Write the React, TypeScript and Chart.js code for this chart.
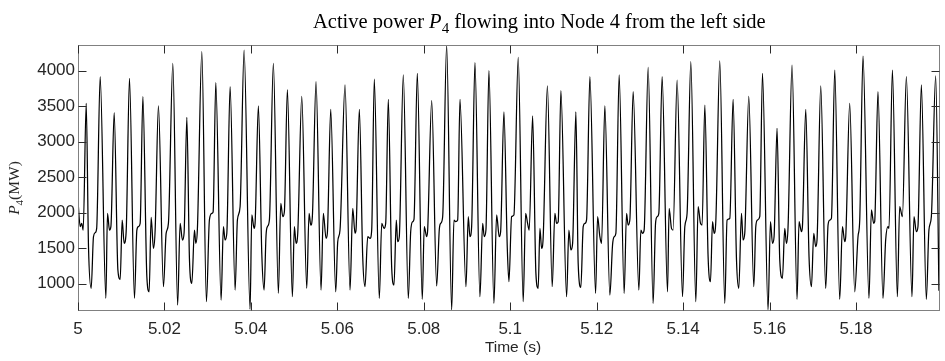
import React, { useEffect, useRef } from "react";
import { Chart, registerables } from "chart.js";

Chart.register(...registerables);

// ---- data ----
const timeS: number[] = [
  5.0, 5.00051, 5.00086, 5.0012, 5.0019, 5.00243, 5.00305, 5.00358, 5.00398, 5.00432,
  5.00513, 5.00645, 5.00682, 5.00728, 5.00761, 5.00837, 5.00923, 5.00976, 5.01022, 5.01068,
  5.01114, 5.01191, 5.01306, 5.01362, 5.01399, 5.01438, 5.01501, 5.01593, 5.01646, 5.01692,
  5.01746, 5.01785, 5.01861, 5.01977, 5.02039, 5.02092, 5.02194, 5.02305, 5.02363, 5.02416,
  5.02455, 5.02518, 5.02578, 5.02634, 5.02694, 5.02726, 5.02763, 5.02865, 5.02971, 5.0304,
  5.03096, 5.03126, 5.03188, 5.03311, 5.03364, 5.03403, 5.03443, 5.03519, 5.03635, 5.03688,
  5.0375, 5.03843, 5.03981, 5.04021, 5.04074, 5.04097, 5.04173, 5.04252, 5.04305, 5.04351,
  5.04381, 5.04428, 5.0452, 5.04636, 5.04691, 5.04738, 5.04775, 5.04844, 5.0496, 5.05006,
  5.05045, 5.05084, 5.05177, 5.05292, 5.05346, 5.05385, 5.05422, 5.05507, 5.05623, 5.05676,
  5.05739, 5.05769, 5.05847, 5.05963, 5.06009, 5.06062, 5.06178, 5.06294, 5.06356, 5.06409,
  5.06432, 5.06509, 5.06587, 5.0664, 5.06703, 5.06756, 5.06795, 5.06855, 5.06971, 5.07027,
  5.0708, 5.07119, 5.07179, 5.07258, 5.07311, 5.07364, 5.07396, 5.07433, 5.07526, 5.07642,
  5.07697, 5.07743, 5.07773, 5.0785, 5.07965, 5.08011, 5.08067, 5.0809, 5.08183, 5.08298,
  5.08358, 5.08391, 5.08437, 5.08529, 5.08645, 5.08698, 5.08737, 5.08784, 5.08837, 5.08976,
  5.09029, 5.09068, 5.09107, 5.09184, 5.09299, 5.09362, 5.09399, 5.09438, 5.09507, 5.09623,
  5.09685, 5.09746, 5.09778, 5.09854, 5.09931, 5.0997, 5.10032, 5.10085, 5.10185, 5.103,
  5.10356, 5.10402, 5.10439, 5.10518, 5.10594, 5.10647, 5.10687, 5.10726, 5.10763, 5.1086,
  5.10971, 5.11033, 5.11073, 5.1111, 5.11172, 5.11304, 5.11357, 5.11403, 5.11443, 5.11519,
  5.11572, 5.11634, 5.11688, 5.11727, 5.11766, 5.11843, 5.11975, 5.12021, 5.12074, 5.12113,
  5.12189, 5.12305, 5.12367, 5.12404, 5.12444, 5.1252, 5.12636, 5.12691, 5.12728, 5.12767,
  5.12844, 5.12976, 5.13022, 5.13061, 5.13098, 5.13191, 5.13306, 5.13362, 5.13399, 5.13438,
  5.13514, 5.13639, 5.13676, 5.13731, 5.13768, 5.13861, 5.13986, 5.14039, 5.14092, 5.14178,
  5.14294, 5.14347, 5.14402, 5.14439, 5.14502, 5.14578, 5.14633, 5.1468, 5.14717, 5.14756,
  5.14848, 5.14964, 5.15017, 5.1508, 5.15156, 5.15235, 5.15288, 5.1535, 5.15387, 5.15426,
  5.15519, 5.15635, 5.15681, 5.1572, 5.15773, 5.15836, 5.15965, 5.16021, 5.16067, 5.16104,
  5.16173, 5.16236, 5.16298, 5.16351, 5.16391, 5.16428, 5.1652, 5.16636, 5.16682, 5.16737,
  5.1676, 5.16837, 5.16913, 5.16969, 5.17022, 5.17068, 5.17098, 5.17184, 5.17299, 5.17353,
  5.17392, 5.17431, 5.17508, 5.17623, 5.17686, 5.17739, 5.17762, 5.17854, 5.1797, 5.18046,
  5.18086, 5.18162, 5.183, 5.18356, 5.18409, 5.18432, 5.18508, 5.18624, 5.18686, 5.1874,
  5.18763, 5.18842, 5.18957, 5.1901, 5.19073, 5.19165, 5.19295, 5.19341, 5.19396, 5.19433,
  5.19512, 5.19627, 5.19687, 5.19743, 5.19843, 5.19919,
];

const powerMW: number[] = [
  2169, 1803, 1850, 1756, 3541, 1521, 935, 1662, 1720, 1780,
  3916, 794, 1992, 1756, 1803, 3409, 1193, 1062, 1897, 1569,
  1730, 3893, 794, 1756, 1803, 1850, 3634, 1099, 887, 1935,
  1498, 1756, 3503, 958, 1710, 1850, 4104, 700, 1850, 1615,
  1720, 3344, 1357, 1006, 1756, 1569, 1780, 4268, 747, 1897,
  1990, 2010, 3831, 770, 1803, 1615, 1710, 3775, 911, 1897,
  2085, 4291, 640, 1968, 1780, 1850, 3503, 1428, 911, 1686,
  1803, 1897, 4104, 865, 2132, 1944, 2015, 3733, 817, 1803,
  1569, 1710, 3639, 935, 1992, 1826, 1944, 3846, 911, 1992,
  1639, 1710, 3456, 887, 1592, 1756, 3799, 911, 2062, 1710,
  1756, 3456, 1380, 958, 1662, 1639, 1756, 3881, 794, 1850,
  1780, 1850, 3597, 1217, 981, 1897, 1592, 1662, 3940, 794,
  1733, 1873, 1905, 3964, 780, 1803, 1662, 1756, 3578, 968,
  1756, 1850, 1944, 4360, 632, 1897, 1873, 1897, 3597, 958,
  1944, 1662, 1803, 4113, 817, 1850, 1662, 1756, 4000, 723,
  1968, 1662, 1733, 3420, 1521, 1028, 1944, 1968, 4189, 747,
  1992, 1850, 1756, 3363, 1146, 935, 1780, 1498, 1662, 3785,
  958, 1992, 1850, 1873, 3719, 817, 1756, 1475, 1569, 3420,
  1287, 949, 1803, 1850, 1900, 3916, 864, 1944, 1662, 1569,
  3503, 840, 1545, 1662, 1710, 3940, 864, 1992, 1826, 1897,
  3705, 911, 1756, 1710, 1756, 4047, 723, 1850, 1944, 1992,
  3916, 887, 2062, 1780, 1756, 3869, 817, 1803, 1992, 4127,
  747, 2085, 1850, 1826, 3517, 1380, 1028, 1873, 1710, 1873,
  4137, 723, 1897, 1920, 3597, 1334, 935, 1992, 1615, 1710,
  3639, 958, 1803, 1897, 1944, 3964, 635, 1873, 1569, 1662,
  3189, 1334, 1076, 1780, 1569, 1803, 4080, 780, 1873, 1733,
  1803, 3456, 1380, 958, 1710, 1521, 1615, 3785, 935, 1826,
  1897, 1920, 4009, 780, 1803, 1592, 1662, 3541, 887, 1662,
  1897, 4207, 794, 2039, 1850, 1873, 3705, 794, 1615, 1803,
  1780, 4009, 817, 2085, 1944, 3916, 817, 1944, 1733, 1803,
  3799, 780, 1756, 1944, 3926, 900,
];

const xTicks: number[] = [5, 5.02, 5.04, 5.06, 5.08, 5.1, 5.12, 5.14, 5.16, 5.18];
const xTickLabels: string[] = ["5", "5.02", "5.04", "5.06", "5.08", "5.1", "5.12", "5.14", "5.16", "5.18"];
const yTicks: number[] = [1000, 1500, 2000, 2500, 3000, 3500, 4000];
const yTickLabels: string[] = ["1000", "1500", "2000", "2500", "3000", "3500", "4000"];

const X_MIN = 5;
const X_MAX = 5.1992;
const Y_MIN = 630;
const Y_MAX = 4362;

const SANS = "'Liberation Sans', Arial, Helvetica, sans-serif";
const SERIF = "'Liberation Serif', 'Times New Roman', Times, serif";

type Seg = { text: string; italic?: boolean; sub?: boolean };
const titleSegs: Seg[] = [
  { text: "Active power " },
  { text: "P", italic: true },
  { text: "4", sub: true },
  { text: " flowing into Node 4 from the left side" },
];
const yLabelSegs: Seg[] = [
  { text: "P", italic: true },
  { text: "4", sub: true },
  { text: "(MW)" },
];
const xLabel = "Time (s)";

function segFont(s: Seg, size: number) {
  const sz = s.sub ? Math.round(size * 0.72) : size;
  return `${s.italic ? "italic " : ""}${sz}px ${SERIF}`;
}
function measureSegs(ctx: CanvasRenderingContext2D, segs: Seg[], size: number) {
  let w = 0;
  for (const s of segs) {
    ctx.font = segFont(s, size);
    w += ctx.measureText(s.text).width;
  }
  return w;
}
function drawSegs(ctx: CanvasRenderingContext2D, segs: Seg[], size: number, x: number, y: number) {
  let cx = x;
  ctx.textBaseline = "alphabetic";
  ctx.textAlign = "left";
  for (const s of segs) {
    ctx.font = segFont(s, size);
    const dy = s.sub ? size * 0.26 : 0;
    ctx.fillText(s.text, cx, y + dy);
    cx += ctx.measureText(s.text).width;
  }
}

const framePlugin = {
  id: "matlabFrame",
  afterDraw(chart: any) {
    const { ctx, chartArea: a, scales } = chart;
    const L = a.left + 0.5;
    const R = a.right + 0.5;
    const T = a.top + 0.5;
    const B = a.bottom + 0.5;
    ctx.save();
    // box
    ctx.strokeStyle = "#808080";
    ctx.lineWidth = 1;
    ctx.strokeRect(L, T, R - L, B - T);
    // ticks (inside, all four sides)
    ctx.strokeStyle = "#2b2b2b";
    ctx.beginPath();
    const tl = 8;
    for (const v of xTicks) {
      const px = Math.round(scales.x.getPixelForValue(v)) + 0.5;
      ctx.moveTo(px, B);
      ctx.lineTo(px, B - tl);
      ctx.moveTo(px, T);
      ctx.lineTo(px, T + tl);
    }
    for (const v of yTicks) {
      const py = Math.round(scales.y.getPixelForValue(v)) + 0.5;
      ctx.moveTo(L, py);
      ctx.lineTo(L + tl, py);
      ctx.moveTo(R, py);
      ctx.lineTo(R - tl, py);
    }
    ctx.stroke();

    // title
    ctx.fillStyle = "#000";
    drawSegs(ctx, titleSegs, 20.5, 313, 28);

    // y label (rotated)
    ctx.save();
    const ySize = 15.5;
    const yw = measureSegs(ctx, yLabelSegs, ySize);
    ctx.translate(19, 188);
    ctx.rotate(-Math.PI / 2);
    ctx.fillStyle = "#262626";
    drawSegs(ctx, yLabelSegs, ySize, -yw / 2, 0);
    ctx.restore();

    // x label
    ctx.fillStyle = "#262626";
    ctx.font = `15.5px ${SANS}`;
    ctx.textAlign = "center";
    ctx.textBaseline = "alphabetic";
    ctx.fillText(xLabel, 513, 352);
    ctx.restore();
  },
};

export default function App() {
  const ref = useRef<HTMLCanvasElement>(null);
  useEffect(() => {
    document.body.style.margin = "0";
    const canvas = ref.current;
    if (!canvas) return;
    const chart = new Chart(canvas, {
      type: "line",
      data: {
        datasets: [
          {
            data: timeS.map((t, i) => ({ x: t, y: powerMW[i] })),
            borderColor: "#000000",
            borderWidth: 1.25,
            pointRadius: 0,
            fill: false,
            cubicInterpolationMode: "monotone",
          },
        ],
      },
      options: {
        animation: false,
        responsive: false,
        devicePixelRatio: 1,
        layout: { padding: { top: 45, right: 6, left: 0, bottom: 0 } },
        plugins: {
          legend: { display: false },
          title: { display: false },
          tooltip: { enabled: false },
        },
        scales: {
          x: {
            type: "linear",
            min: X_MIN,
            max: X_MAX,
            afterBuildTicks: (s: any) => {
              s.ticks = xTicks.map((v) => ({ value: v }));
            },
            afterFit: (s: any) => {
              s.height = 51;
            },
            grid: { display: false, drawTicks: false },
            border: { display: false },
            ticks: {
              autoSkip: false,
              maxRotation: 0,
              padding: 9,
              color: "#262626",
              font: { family: SANS, size: 17 },
              callback: (_v: any, i: number) => xTickLabels[i],
            },
          },
          y: {
            type: "linear",
            min: Y_MIN,
            max: Y_MAX,
            afterBuildTicks: (s: any) => {
              s.ticks = yTicks.map((v) => ({ value: v }));
            },
            afterFit: (s: any) => {
              s.width = 78;
            },
            grid: { display: false, drawTicks: false },
            border: { display: false },
            ticks: {
              autoSkip: false,
              padding: 3,
              color: "#262626",
              font: { family: SANS, size: 17 },
              callback: (_v: any, i: number) => yTickLabels[i],
            },
          },
        },
      },
      plugins: [framePlugin],
    } as any);
    return () => chart.destroy();
  }, []);
  return (
    <div style={{ width: 945, height: 361 }}>
      <canvas ref={ref} width={945} height={361} style={{ display: "block" }} />
    </div>
  );
}
